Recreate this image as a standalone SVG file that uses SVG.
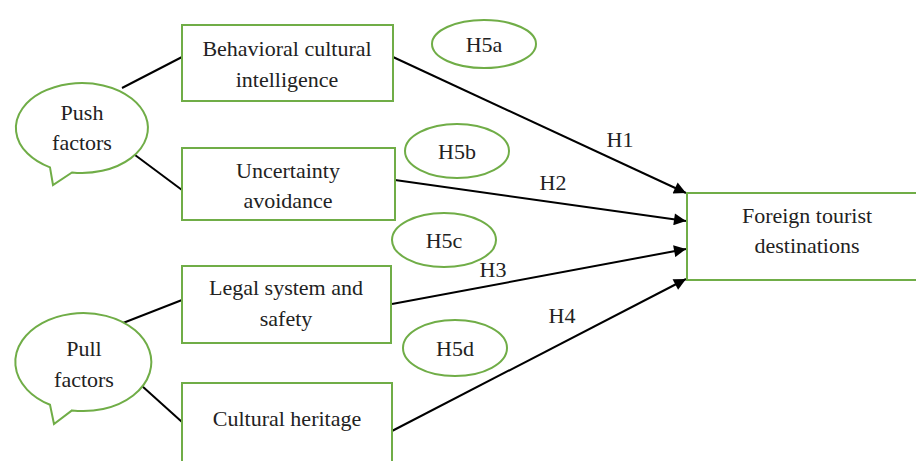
<svg xmlns="http://www.w3.org/2000/svg" width="916" height="461" viewBox="0 0 916 461" font-family="Liberation Serif, Times New Roman, DejaVu Serif, serif">
<style>
.box{fill:#fff;stroke:#70AD47;stroke-width:2}
.ell{fill:#fff;stroke:#70AD47;stroke-width:2}
.t{font-size:22px;fill:#222;text-anchor:middle}
.c{stroke:#000;stroke-width:2;fill:none}
</style>
<defs>
<marker id="ah" viewBox="0 0 10 10" refX="10" refY="5" markerWidth="7" markerHeight="6" markerUnits="strokeWidth" orient="auto">
<path d="M0,0 L10,5 L0,10 z" fill="#000"/>
</marker>
</defs>
<rect width="916" height="461" fill="#fff"/>
<g id="connectors">
<line class="c" x1="122" y1="88" x2="182" y2="57"/>
<line class="c" x1="135" y1="155" x2="182" y2="190"/>
<line class="c" x1="123" y1="323" x2="182" y2="300"/>
<line class="c" x1="142" y1="386" x2="182" y2="422"/>
<line class="c" x1="393" y1="57" x2="686" y2="193" marker-end="url(#ah)"/>
<line class="c" x1="395" y1="180" x2="686" y2="221" marker-end="url(#ah)"/>
<line class="c" x1="392" y1="304" x2="686" y2="249" marker-end="url(#ah)"/>
<line class="c" x1="392" y1="431" x2="686" y2="279" marker-end="url(#ah)"/>
<text class="t" x="620" y="147">H1</text>
<text class="t" x="553" y="190">H2</text>
<text class="t" x="493" y="277">H3</text>
<text class="t" x="562" y="323">H4</text>
</g>
<g id="push">
<path class="ell" d="M50,167.4 A66,45 0 1 1 72,172.5 L53,185 Z"/>
<text class="t" x="82" y="120">Push</text>
<text class="t" x="82" y="150">factors</text>
</g>
<g id="pull">
<path class="ell" d="M50,404.8 A68,49 0 1 1 72,410.4 L54,424 Z"/>
<text class="t" x="84" y="356">Pull</text>
<text class="t" x="84" y="387">factors</text>
</g>
<g id="bci">
<rect class="box" x="182" y="25" width="211" height="76"/>
<text class="t" x="287" y="56">Behavioral cultural</text>
<text class="t" x="287" y="87">intelligence</text>
</g>
<g id="ua">
<rect class="box" x="182" y="148" width="213" height="72"/>
<text class="t" x="288" y="178">Uncertainty</text>
<text class="t" x="288" y="208">avoidance</text>
</g>
<g id="lss">
<rect class="box" x="182" y="266" width="209" height="77"/>
<text class="t" x="286" y="295">Legal system and</text>
<text class="t" x="286" y="326">safety</text>
</g>
<g id="ch">
<rect class="box" x="182" y="383" width="210" height="90"/>
<text class="t" x="287" y="426">Cultural heritage</text>
</g>
<g id="ftd">
<rect class="box" x="687" y="193" width="240" height="87"/>
<text class="t" x="807" y="223">Foreign tourist</text>
<text class="t" x="807" y="253">destinations</text>
</g>
<g id="h5a">
<ellipse class="ell" cx="484" cy="44" rx="52" ry="24"/>
<text class="t" x="484" y="52">H5a</text>
</g>
<g id="h5b">
<ellipse class="ell" cx="457" cy="151" rx="52" ry="27"/>
<text class="t" x="457" y="159">H5b</text>
</g>
<g id="h5c">
<ellipse class="ell" cx="444" cy="240" rx="52" ry="27"/>
<text class="t" x="444" y="248">H5c</text>
</g>
<g id="h5d">
<ellipse class="ell" cx="455" cy="348" rx="52" ry="28"/>
<text class="t" x="455" y="356">H5d</text>
</g>
</svg>
